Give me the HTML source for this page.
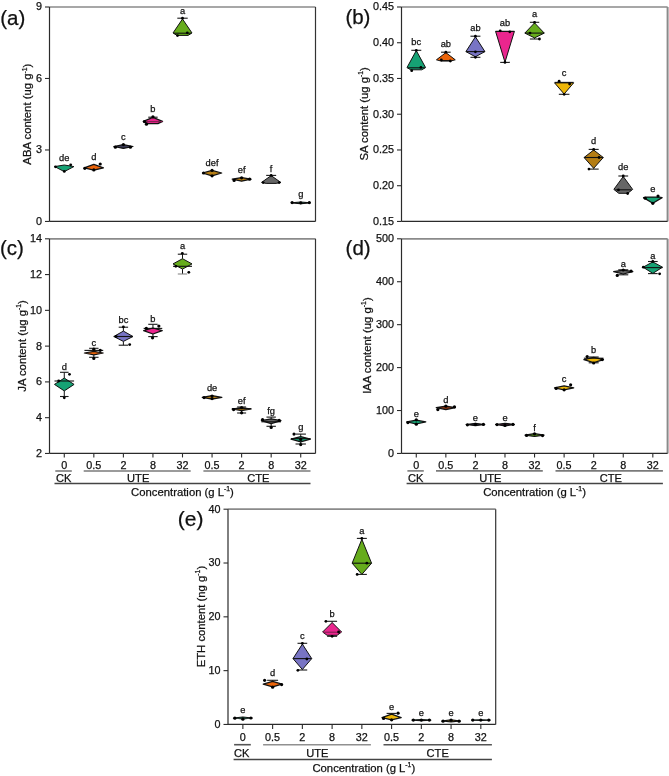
<!DOCTYPE html>
<html><head><meta charset="utf-8"><style>
html,body{margin:0;padding:0;background:#fff;}
svg{display:block;will-change:transform;}
text{font-family:"Liberation Sans", sans-serif;fill:#111;stroke:#111;stroke-width:0.25px;}
</style></head><body>
<svg width="669" height="776" viewBox="0 0 669 776">
<rect width="669" height="776" fill="#fff"/>
<line x1="49.5" y1="7" x2="315.5" y2="7" stroke="#8a8a8a" stroke-width="1.7"/>
<line x1="315.5" y1="7" x2="315.5" y2="221.45" stroke="#333" stroke-width="1.2"/>
<line x1="49.5" y1="7" x2="49.5" y2="221.45" stroke="#2b2b2b" stroke-width="1.2"/>
<line x1="49.5" y1="221.45" x2="315.5" y2="221.45" stroke="#2b2b2b" stroke-width="1.2"/>
<line x1="45.0" y1="221.45" x2="49.5" y2="221.45" stroke="#2b2b2b" stroke-width="1.1"/>
<text x="42.0" y="224.85" text-anchor="end" font-size="10.8">0</text>
<line x1="45.0" y1="149.97" x2="49.5" y2="149.97" stroke="#2b2b2b" stroke-width="1.1"/>
<text x="42.0" y="153.37" text-anchor="end" font-size="10.8">3</text>
<line x1="45.0" y1="78.48" x2="49.5" y2="78.48" stroke="#2b2b2b" stroke-width="1.1"/>
<text x="42.0" y="81.88" text-anchor="end" font-size="10.8">6</text>
<line x1="45.0" y1="7.00" x2="49.5" y2="7.00" stroke="#2b2b2b" stroke-width="1.1"/>
<text x="42.0" y="10.40" text-anchor="end" font-size="10.8">9</text>
<text x="0.2" y="24.6" font-size="20.5">(a)</text>
<text transform="translate(31.4,114.2) rotate(-90)" text-anchor="middle" font-size="11.3">ABA content (<tspan>ug</tspan> g<tspan font-size="6.8" dy="-4.5">-1</tspan><tspan dy="4.5">)</tspan></text>

<polygon points="64.28,165.00 73.88,166.60 64.28,171.60 54.68,166.60" fill="#16a274" stroke="#111" stroke-width="1" stroke-linejoin="round"/>
<circle cx="55.48" cy="166.8" r="1.4" fill="#000"/>
<circle cx="70.68" cy="164.8" r="1.4" fill="#000"/>
<circle cx="64.28" cy="171.4" r="1.4" fill="#000"/>
<text x="64.28" y="160.9" text-anchor="middle" font-size="9.3">de</text>

<polygon points="93.83,164.40 103.43,167.90 93.83,170.20 84.23,167.90" fill="#ec640a" stroke="#111" stroke-width="1.25" stroke-linejoin="round"/>
<circle cx="100.23" cy="164.0" r="1.6" fill="#000"/>
<circle cx="84.83" cy="168.3" r="1.6" fill="#000"/>
<circle cx="93.83" cy="169.9" r="1.6" fill="#000"/>
<text x="93.83" y="159.5" text-anchor="middle" font-size="9.3">d</text>

<polygon points="123.39,144.60 132.99,146.50 123.39,148.40 113.79,146.50" fill="#3c3c58" stroke="#111" stroke-width="1.25" stroke-linejoin="round"/>
<circle cx="115.39" cy="147.2" r="1.6" fill="#000"/>
<circle cx="123.39" cy="144.6" r="1.6" fill="#000"/>
<circle cx="130.39" cy="147.2" r="1.6" fill="#000"/>
<text x="123.39" y="140.3" text-anchor="middle" font-size="9.3">c</text>
<line x1="152.94" y1="117.2" x2="152.94" y2="117.4" stroke="#111" stroke-width="1"/><line x1="148.24" y1="117.2" x2="157.64" y2="117.2" stroke="#1a1a1a" stroke-width="1.1"/>
<polygon points="152.94,117.40 162.54,121.40 157.94,123.60 147.94,123.60 143.34,121.40" fill="#ea268e" stroke="#111" stroke-width="1.25" stroke-linejoin="round"/>
<line x1="143.34" y1="121.6" x2="162.54" y2="121.6" stroke="#802050" stroke-width="1.1"/>
<circle cx="144.44" cy="121.6" r="1.6" fill="#000"/>
<circle cx="152.94" cy="116.8" r="1.6" fill="#000"/>
<circle cx="146.44" cy="124.2" r="1.6" fill="#000"/>
<text x="152.94" y="112.4" text-anchor="middle" font-size="9.3">b</text>
<line x1="182.50" y1="18.2" x2="182.50" y2="19.0" stroke="#111" stroke-width="1"/><line x1="177.30" y1="18.2" x2="187.70" y2="18.2" stroke="#1a1a1a" stroke-width="1.1"/>
<polygon points="182.50,19.00 192.00,33.00 188.00,35.40 177.00,35.40 173.00,33.00" fill="#66ac1c" stroke="#111" stroke-width="1" stroke-linejoin="round"/>
<line x1="174.00" y1="33.2" x2="191.00" y2="33.2" stroke="#111" stroke-width="1.1"/>
<circle cx="182.50" cy="18.2" r="1.4" fill="#000"/>
<circle cx="187.30" cy="32.8" r="1.4" fill="#000"/>
<circle cx="177.50" cy="35.6" r="1.4" fill="#000"/>
<text x="182.50" y="13.9" text-anchor="middle" font-size="9.3">a</text>

<polygon points="212.06,170.40 221.66,173.00 212.06,175.80 202.46,173.00" fill="#b47d14" stroke="#111" stroke-width="1.25" stroke-linejoin="round"/>
<circle cx="203.56" cy="173" r="1.6" fill="#000"/>
<circle cx="212.06" cy="170.4" r="1.6" fill="#000"/>
<circle cx="212.06" cy="175.8" r="1.6" fill="#000"/>
<text x="212.06" y="165.9" text-anchor="middle" font-size="9.3">def</text>

<polygon points="241.61,177.60 251.01,179.20 241.61,181.20 232.21,179.20" fill="#b47d14" stroke="#111" stroke-width="1.25" stroke-linejoin="round"/>
<circle cx="234.11" cy="180.4" r="1.6" fill="#000"/>
<circle cx="241.61" cy="177.8" r="1.6" fill="#000"/>
<circle cx="249.61" cy="179.2" r="1.6" fill="#000"/>
<text x="241.61" y="172.5" text-anchor="middle" font-size="9.3">ef</text>
<line x1="271.17" y1="175.4" x2="271.17" y2="175.6" stroke="#111" stroke-width="1"/><line x1="266.17" y1="175.4" x2="276.17" y2="175.4" stroke="#1a1a1a" stroke-width="1.1"/>
<polygon points="271.17,175.60 280.77,182.40 276.17,183.40 266.17,183.40 261.57,182.40" fill="#666666" stroke="#111" stroke-width="1" stroke-linejoin="round"/>
<circle cx="271.17" cy="175.4" r="1.4" fill="#000"/>
<circle cx="263.17" cy="182.6" r="1.4" fill="#000"/>
<circle cx="279.17" cy="182.6" r="1.4" fill="#000"/>
<text x="271.17" y="171.6" text-anchor="middle" font-size="9.3">f</text>

<polygon points="300.72,202.00 310.12,202.80 300.72,203.60 291.32,202.80" fill="#16a274" stroke="#111" stroke-width="1.25" stroke-linejoin="round"/>
<circle cx="292.12" cy="202.6" r="1.6" fill="#000"/>
<circle cx="300.72" cy="202.8" r="1.6" fill="#000"/>
<circle cx="309.32" cy="202.6" r="1.6" fill="#000"/>
<text x="300.72" y="197.2" text-anchor="middle" font-size="9.3">g</text>
<line x1="401.5" y1="7" x2="667.6" y2="7" stroke="#8a8a8a" stroke-width="1.7"/>
<line x1="667.6" y1="7" x2="667.6" y2="221.45" stroke="#8a8a8a" stroke-width="2.0"/>
<line x1="401.5" y1="7" x2="401.5" y2="221.45" stroke="#2b2b2b" stroke-width="1.2"/>
<line x1="401.5" y1="221.45" x2="667.6" y2="221.45" stroke="#2b2b2b" stroke-width="1.2"/>
<line x1="397.0" y1="221.45" x2="401.5" y2="221.45" stroke="#2b2b2b" stroke-width="1.1"/>
<text x="394.0" y="224.85" text-anchor="end" font-size="10.8">0.15</text>
<line x1="397.0" y1="185.71" x2="401.5" y2="185.71" stroke="#2b2b2b" stroke-width="1.1"/>
<text x="394.0" y="189.11" text-anchor="end" font-size="10.8">0.20</text>
<line x1="397.0" y1="149.97" x2="401.5" y2="149.97" stroke="#2b2b2b" stroke-width="1.1"/>
<text x="394.0" y="153.37" text-anchor="end" font-size="10.8">0.25</text>
<line x1="397.0" y1="114.23" x2="401.5" y2="114.23" stroke="#2b2b2b" stroke-width="1.1"/>
<text x="394.0" y="117.63" text-anchor="end" font-size="10.8">0.30</text>
<line x1="397.0" y1="78.48" x2="401.5" y2="78.48" stroke="#2b2b2b" stroke-width="1.1"/>
<text x="394.0" y="81.88" text-anchor="end" font-size="10.8">0.35</text>
<line x1="397.0" y1="42.74" x2="401.5" y2="42.74" stroke="#2b2b2b" stroke-width="1.1"/>
<text x="394.0" y="46.14" text-anchor="end" font-size="10.8">0.40</text>
<line x1="397.0" y1="7.00" x2="401.5" y2="7.00" stroke="#2b2b2b" stroke-width="1.1"/>
<text x="394.0" y="10.40" text-anchor="end" font-size="10.8">0.45</text>
<text x="345.4" y="24.4" font-size="20.5">(b)</text>
<text transform="translate(367.7,113.8) rotate(-90)" text-anchor="middle" font-size="11.3">SA content (<tspan>ug</tspan> g<tspan font-size="6.8" dy="-4.5">-1</tspan><tspan dy="4.5">)</tspan></text>
<line x1="416.28" y1="50.3" x2="416.28" y2="50.6" stroke="#111" stroke-width="1"/><line x1="411.28" y1="50.3" x2="421.28" y2="50.3" stroke="#1a1a1a" stroke-width="1.1"/>
<polygon points="416.28,50.60 425.58,67.60 421.78,69.80 410.78,69.80 406.98,67.60" fill="#16a274" stroke="#111" stroke-width="1" stroke-linejoin="round"/>
<line x1="407.78" y1="67.8" x2="424.78" y2="67.8" stroke="#111" stroke-width="1.1"/>
<circle cx="416.28" cy="50.3" r="1.4" fill="#000"/>
<circle cx="420.88" cy="67.4" r="1.4" fill="#000"/>
<circle cx="411.68" cy="70.7" r="1.4" fill="#000"/>
<text x="416.28" y="44.8" text-anchor="middle" font-size="9.3">bc</text>
<line x1="445.85" y1="52.2" x2="445.85" y2="52.6" stroke="#111" stroke-width="1"/><line x1="441.05" y1="52.2" x2="450.65" y2="52.2" stroke="#1a1a1a" stroke-width="1.1"/>
<polygon points="445.85,52.60 455.25,59.80 450.85,61.00 440.85,61.00 436.45,59.80" fill="#ec640a" stroke="#111" stroke-width="1" stroke-linejoin="round"/>
<line x1="440.85" y1="60.6" x2="450.85" y2="60.6" stroke="#111" stroke-width="1.1"/>
<circle cx="445.85" cy="52.2" r="1.4" fill="#000"/>
<circle cx="441.35" cy="60.0" r="1.4" fill="#000"/>
<circle cx="450.35" cy="61.0" r="1.4" fill="#000"/>
<text x="445.85" y="46.7" text-anchor="middle" font-size="9.3">ab</text>
<line x1="475.42" y1="36.2" x2="475.42" y2="36.8" stroke="#111" stroke-width="1"/><line x1="470.42" y1="36.2" x2="480.42" y2="36.2" stroke="#1a1a1a" stroke-width="1.1"/><line x1="475.42" y1="56.8" x2="475.42" y2="57.3" stroke="#111" stroke-width="1"/><line x1="470.42" y1="57.3" x2="480.42" y2="57.3" stroke="#1a1a1a" stroke-width="1.1"/>
<polygon points="475.42,36.80 484.92,51.60 475.42,56.80 465.92,51.60" fill="#7874c4" stroke="#111" stroke-width="1" stroke-linejoin="round"/>
<line x1="465.92" y1="51.6" x2="484.92" y2="51.6" stroke="#111" stroke-width="1.1"/>
<circle cx="475.42" cy="36.2" r="1.4" fill="#000"/>
<circle cx="475.42" cy="51.8" r="1.4" fill="#000"/>
<circle cx="475.42" cy="57.3" r="1.4" fill="#000"/>
<text x="475.42" y="30.8" text-anchor="middle" font-size="9.3">ab</text>
<line x1="504.98" y1="62.2" x2="504.98" y2="62.4" stroke="#111" stroke-width="1"/><line x1="500.18" y1="62.4" x2="509.78" y2="62.4" stroke="#1a1a1a" stroke-width="1.1"/>
<polygon points="495.58,31.40 514.38,31.40 514.38,31.40 504.98,62.20 495.58,31.40" fill="#ea268e" stroke="#111" stroke-width="1" stroke-linejoin="round"/>
<line x1="495.58" y1="31.4" x2="514.38" y2="31.4" stroke="#111" stroke-width="1.1"/>
<circle cx="500.18" cy="30.8" r="1.4" fill="#000"/>
<circle cx="509.78" cy="31.8" r="1.4" fill="#000"/>
<circle cx="504.98" cy="62.4" r="1.4" fill="#000"/>
<text x="504.98" y="25.7" text-anchor="middle" font-size="9.3">ab</text>
<line x1="534.55" y1="22.3" x2="534.55" y2="22.9" stroke="#111" stroke-width="1"/><line x1="529.85" y1="22.3" x2="539.25" y2="22.3" stroke="#1a1a1a" stroke-width="1.1"/><line x1="534.55" y1="37.9" x2="534.55" y2="39.0" stroke="#111" stroke-width="1"/><line x1="529.85" y1="39.0" x2="539.25" y2="39.0" stroke="#1a1a1a" stroke-width="1.1"/>
<polygon points="534.55,22.90 544.25,33.10 534.55,37.90 524.85,33.10" fill="#66ac1c" stroke="#111" stroke-width="1" stroke-linejoin="round"/>
<line x1="524.85" y1="33.1" x2="544.25" y2="33.1" stroke="#111" stroke-width="1.1"/>
<circle cx="534.55" cy="22.3" r="1.4" fill="#000"/>
<circle cx="530.05" cy="33.1" r="1.4" fill="#000"/>
<circle cx="539.45" cy="39.0" r="1.4" fill="#000"/>
<text x="534.55" y="17.3" text-anchor="middle" font-size="9.3">a</text>
<line x1="564.12" y1="94.0" x2="564.12" y2="94.3" stroke="#111" stroke-width="1"/><line x1="558.82" y1="94.3" x2="569.42" y2="94.3" stroke="#1a1a1a" stroke-width="1.1"/>
<polygon points="554.62,82.90 573.62,82.90 573.62,82.90 564.12,94.00 554.62,82.90" fill="#edb608" stroke="#111" stroke-width="1" stroke-linejoin="round"/>
<line x1="554.62" y1="82.4" x2="573.62" y2="82.4" stroke="#111" stroke-width="1.1"/>
<circle cx="559.12" cy="81.2" r="1.4" fill="#000"/>
<circle cx="569.62" cy="84.0" r="1.4" fill="#000"/>
<circle cx="564.12" cy="94.3" r="1.4" fill="#000"/>
<text x="564.12" y="76.0" text-anchor="middle" font-size="9.3">c</text>
<line x1="593.68" y1="149.4" x2="593.68" y2="150.0" stroke="#111" stroke-width="1"/><line x1="588.68" y1="149.4" x2="598.68" y2="149.4" stroke="#1a1a1a" stroke-width="1.1"/><line x1="593.68" y1="168.3" x2="593.68" y2="169.1" stroke="#111" stroke-width="1"/><line x1="588.68" y1="169.1" x2="598.68" y2="169.1" stroke="#1a1a1a" stroke-width="1.1"/>
<polygon points="593.68,150.00 603.28,157.50 593.68,168.30 584.08,157.50" fill="#b47d14" stroke="#111" stroke-width="1" stroke-linejoin="round"/>
<line x1="584.08" y1="157.5" x2="603.28" y2="157.5" stroke="#111" stroke-width="1.1"/>
<circle cx="593.68" cy="149.4" r="1.4" fill="#000"/>
<circle cx="599.08" cy="157.5" r="1.4" fill="#000"/>
<circle cx="588.98" cy="169.1" r="1.4" fill="#000"/>
<text x="593.68" y="144.4" text-anchor="middle" font-size="9.3">d</text>
<line x1="623.25" y1="176.0" x2="623.25" y2="176.5" stroke="#111" stroke-width="1"/><line x1="618.35" y1="176.0" x2="628.15" y2="176.0" stroke="#1a1a1a" stroke-width="1.1"/>
<polygon points="623.25,176.50 632.65,189.40 627.75,193.30 618.75,193.30 613.85,189.40" fill="#666666" stroke="#111" stroke-width="1" stroke-linejoin="round"/>
<line x1="615.25" y1="189.8" x2="631.25" y2="189.8" stroke="#111" stroke-width="1.1"/>
<circle cx="623.25" cy="176.0" r="1.4" fill="#000"/>
<circle cx="618.45" cy="189.9" r="1.4" fill="#000"/>
<circle cx="627.65" cy="193.5" r="1.4" fill="#000"/>
<text x="623.25" y="170.4" text-anchor="middle" font-size="9.3">de</text>

<polygon points="646.82,197.00 658.82,197.00 662.12,197.60 652.82,203.20 643.52,197.60" fill="#16a274" stroke="#111" stroke-width="1.25" stroke-linejoin="round"/>
<circle cx="658.02" cy="196.1" r="1.6" fill="#000"/>
<circle cx="645.22" cy="198.2" r="1.6" fill="#000"/>
<circle cx="652.82" cy="203.3" r="1.6" fill="#000"/>
<text x="652.82" y="191.5" text-anchor="middle" font-size="9.3">e</text>
<line x1="49.5" y1="238.8" x2="315.5" y2="238.8" stroke="#8a8a8a" stroke-width="1.7"/>
<line x1="315.5" y1="238.8" x2="315.5" y2="453.45" stroke="#333" stroke-width="1.2"/>
<line x1="49.5" y1="238.8" x2="49.5" y2="453.45" stroke="#2b2b2b" stroke-width="1.2"/>
<line x1="49.5" y1="453.45" x2="315.5" y2="453.45" stroke="#2b2b2b" stroke-width="1.2"/>
<line x1="45.0" y1="453.45" x2="49.5" y2="453.45" stroke="#2b2b2b" stroke-width="1.1"/>
<text x="42.0" y="456.85" text-anchor="end" font-size="10.8">2</text>
<line x1="45.0" y1="417.68" x2="49.5" y2="417.68" stroke="#2b2b2b" stroke-width="1.1"/>
<text x="42.0" y="421.07" text-anchor="end" font-size="10.8">4</text>
<line x1="45.0" y1="381.90" x2="49.5" y2="381.90" stroke="#2b2b2b" stroke-width="1.1"/>
<text x="42.0" y="385.30" text-anchor="end" font-size="10.8">6</text>
<line x1="45.0" y1="346.12" x2="49.5" y2="346.12" stroke="#2b2b2b" stroke-width="1.1"/>
<text x="42.0" y="349.52" text-anchor="end" font-size="10.8">8</text>
<line x1="45.0" y1="310.35" x2="49.5" y2="310.35" stroke="#2b2b2b" stroke-width="1.1"/>
<text x="42.0" y="313.75" text-anchor="end" font-size="10.8">10</text>
<line x1="45.0" y1="274.57" x2="49.5" y2="274.57" stroke="#2b2b2b" stroke-width="1.1"/>
<text x="42.0" y="277.97" text-anchor="end" font-size="10.8">12</text>
<line x1="45.0" y1="238.80" x2="49.5" y2="238.80" stroke="#2b2b2b" stroke-width="1.1"/>
<text x="42.0" y="242.20" text-anchor="end" font-size="10.8">14</text>
<text x="0.0" y="254.5" font-size="20.5">(c)</text>
<text transform="translate(25.6,346.0) rotate(-90)" text-anchor="middle" font-size="11.3">JA content (<tspan>ug</tspan> g<tspan font-size="6.8" dy="-4.5">-1</tspan><tspan dy="4.5">)</tspan></text>
<line x1="64.28" y1="453.45" x2="64.28" y2="457.45" stroke="#2b2b2b" stroke-width="1.1"/>
<text x="64.28" y="469.0" text-anchor="middle" font-size="10.8">0</text>
<line x1="93.83" y1="453.45" x2="93.83" y2="457.45" stroke="#2b2b2b" stroke-width="1.1"/>
<text x="93.83" y="469.0" text-anchor="middle" font-size="10.8">0.5</text>
<line x1="123.39" y1="453.45" x2="123.39" y2="457.45" stroke="#2b2b2b" stroke-width="1.1"/>
<text x="123.39" y="469.0" text-anchor="middle" font-size="10.8">2</text>
<line x1="152.94" y1="453.45" x2="152.94" y2="457.45" stroke="#2b2b2b" stroke-width="1.1"/>
<text x="152.94" y="469.0" text-anchor="middle" font-size="10.8">8</text>
<line x1="182.50" y1="453.45" x2="182.50" y2="457.45" stroke="#2b2b2b" stroke-width="1.1"/>
<text x="182.50" y="469.0" text-anchor="middle" font-size="10.8">32</text>
<line x1="212.06" y1="453.45" x2="212.06" y2="457.45" stroke="#2b2b2b" stroke-width="1.1"/>
<text x="212.06" y="469.0" text-anchor="middle" font-size="10.8">0.5</text>
<line x1="241.61" y1="453.45" x2="241.61" y2="457.45" stroke="#2b2b2b" stroke-width="1.1"/>
<text x="241.61" y="469.0" text-anchor="middle" font-size="10.8">2</text>
<line x1="271.17" y1="453.45" x2="271.17" y2="457.45" stroke="#2b2b2b" stroke-width="1.1"/>
<text x="271.17" y="469.0" text-anchor="middle" font-size="10.8">8</text>
<line x1="300.72" y1="453.45" x2="300.72" y2="457.45" stroke="#2b2b2b" stroke-width="1.1"/>
<text x="300.72" y="469.0" text-anchor="middle" font-size="10.8">32</text>
<line x1="55.3" y1="471.0" x2="71.8" y2="471.0" stroke="#7a7a7a" stroke-width="1.6"/>
<line x1="83.7" y1="471.0" x2="190.7" y2="471.0" stroke="#7a7a7a" stroke-width="1.6"/>
<line x1="203.4" y1="471.0" x2="310.5" y2="471.0" stroke="#7a7a7a" stroke-width="1.6"/>
<text x="63.6" y="481.8" text-anchor="middle" font-size="11.1">CK</text>
<text x="138.2" y="481.8" text-anchor="middle" font-size="11.1">UTE</text>
<text x="258.4" y="481.8" text-anchor="middle" font-size="11.1">CTE</text>
<line x1="54.5" y1="483.6" x2="310.5" y2="483.6" stroke="#444" stroke-width="1.5"/>
<text x="182.50" y="495.9" text-anchor="middle" font-size="11.3">Concentration (g L<tspan font-size="6.8" dy="-4.5">-1</tspan><tspan dy="4.5">)</tspan></text>
<line x1="64.28" y1="372.3" x2="64.28" y2="378.1" stroke="#111" stroke-width="1"/><line x1="59.98" y1="372.3" x2="68.58" y2="372.3" stroke="#1a1a1a" stroke-width="1.1"/><line x1="64.28" y1="390.9" x2="64.28" y2="396.5" stroke="#111" stroke-width="1"/><line x1="59.98" y1="396.5" x2="68.58" y2="396.5" stroke="#1a1a1a" stroke-width="1.1"/>
<polygon points="64.28,378.10 74.08,384.40 64.28,390.90 54.48,384.40" fill="#16a274" stroke="#111" stroke-width="1" stroke-linejoin="round"/>
<line x1="54.48" y1="381.0" x2="74.08" y2="381.0" stroke="#111" stroke-width="1.1"/>
<circle cx="69.48" cy="374.3" r="1.4" fill="#000"/>
<circle cx="58.68" cy="381.0" r="1.4" fill="#000"/>
<circle cx="64.28" cy="397.8" r="1.4" fill="#000"/>
<text x="64.28" y="370.0" text-anchor="middle" font-size="9.3">d</text>
<line x1="93.83" y1="348.3" x2="93.83" y2="351.4" stroke="#111" stroke-width="1"/><line x1="89.13" y1="348.3" x2="98.53" y2="348.3" stroke="#1a1a1a" stroke-width="1.1"/><line x1="93.83" y1="354.8" x2="93.83" y2="357.3" stroke="#111" stroke-width="1"/><line x1="89.13" y1="357.3" x2="98.53" y2="357.3" stroke="#1a1a1a" stroke-width="1.1"/>
<polygon points="93.83,351.40 103.23,353.00 93.83,354.80 84.43,353.00" fill="#ec640a" stroke="#111" stroke-width="1.25" stroke-linejoin="round"/>
<line x1="84.43" y1="350.4" x2="103.23" y2="350.4" stroke="#111" stroke-width="1.1"/>
<circle cx="93.83" cy="349.2" r="1.6" fill="#000"/>
<circle cx="100.23" cy="350.3" r="1.6" fill="#000"/>
<circle cx="93.83" cy="358.4" r="1.6" fill="#000"/>
<text x="93.83" y="345.9" text-anchor="middle" font-size="9.3">c</text>
<line x1="123.39" y1="327.2" x2="123.39" y2="331.1" stroke="#111" stroke-width="1"/><line x1="118.69" y1="327.2" x2="128.09" y2="327.2" stroke="#1a1a1a" stroke-width="1.1"/><line x1="123.39" y1="341.4" x2="123.39" y2="345.2" stroke="#111" stroke-width="1"/><line x1="118.69" y1="345.2" x2="128.09" y2="345.2" stroke="#1a1a1a" stroke-width="1.1"/>
<polygon points="123.39,331.10 132.99,336.50 123.39,341.40 113.79,336.50" fill="#7874c4" stroke="#111" stroke-width="1" stroke-linejoin="round"/>
<line x1="113.79" y1="336.5" x2="132.99" y2="336.5" stroke="#111" stroke-width="1.1"/>
<circle cx="123.39" cy="326.9" r="1.4" fill="#000"/>
<circle cx="116.19" cy="336.5" r="1.4" fill="#000"/>
<circle cx="129.69" cy="344.6" r="1.4" fill="#000"/>
<text x="123.39" y="322.7" text-anchor="middle" font-size="9.3">bc</text>
<line x1="152.94" y1="324.3" x2="152.94" y2="328.0" stroke="#111" stroke-width="1"/><line x1="148.24" y1="324.3" x2="157.64" y2="324.3" stroke="#1a1a1a" stroke-width="1.1"/><line x1="152.94" y1="334.0" x2="152.94" y2="336.6" stroke="#111" stroke-width="1"/><line x1="148.24" y1="336.6" x2="157.64" y2="336.6" stroke="#1a1a1a" stroke-width="1.1"/>
<polygon points="152.94,328.00 162.24,330.60 152.94,334.00 143.64,330.60" fill="#ea268e" stroke="#111" stroke-width="1.25" stroke-linejoin="round"/>
<line x1="143.64" y1="328.4" x2="162.24" y2="328.4" stroke="#111" stroke-width="1.1"/>
<circle cx="146.34" cy="328.4" r="1.6" fill="#000"/>
<circle cx="158.84" cy="326.1" r="1.6" fill="#000"/>
<circle cx="152.54" cy="337.8" r="1.6" fill="#000"/>
<text x="152.94" y="322.2" text-anchor="middle" font-size="9.3">b</text>
<line x1="182.50" y1="254.2" x2="182.50" y2="258.7" stroke="#111" stroke-width="1"/><line x1="177.80" y1="254.2" x2="187.20" y2="254.2" stroke="#1a1a1a" stroke-width="1.1"/><line x1="182.50" y1="269.1" x2="182.50" y2="274.0" stroke="#111" stroke-width="1"/><line x1="177.80" y1="274.0" x2="187.20" y2="274.0" stroke="#888" stroke-width="1.1"/>
<polygon points="182.50,258.70 192.00,263.90 182.50,269.10 173.00,263.90" fill="#66ac1c" stroke="#111" stroke-width="1" stroke-linejoin="round"/>
<line x1="173.00" y1="266.3" x2="192.00" y2="266.3" stroke="#111" stroke-width="1.1"/>
<circle cx="182.30" cy="253.3" r="1.4" fill="#000"/>
<circle cx="175.80" cy="266.3" r="1.4" fill="#000"/>
<circle cx="188.80" cy="272.3" r="1.4" fill="#000"/>
<text x="182.50" y="248.9" text-anchor="middle" font-size="9.3">a</text>

<polygon points="212.06,395.60 221.86,397.40 212.06,399.20 202.26,397.40" fill="#b47d14" stroke="#111" stroke-width="1.25" stroke-linejoin="round"/>
<circle cx="204.06" cy="397.6" r="1.6" fill="#000"/>
<circle cx="212.06" cy="396.0" r="1.6" fill="#000"/>
<circle cx="212.06" cy="398.6" r="1.6" fill="#000"/>
<text x="212.06" y="390.9" text-anchor="middle" font-size="9.3">de</text>
<line x1="241.61" y1="407.0" x2="241.61" y2="407.6" stroke="#111" stroke-width="1"/><line x1="237.11" y1="407.0" x2="246.11" y2="407.0" stroke="#1a1a1a" stroke-width="1.1"/><line x1="241.61" y1="410.6" x2="241.61" y2="413.0" stroke="#111" stroke-width="1"/><line x1="237.11" y1="413.0" x2="246.11" y2="413.0" stroke="#1a1a1a" stroke-width="1.1"/>
<polygon points="241.61,407.60 251.21,409.00 241.61,410.60 232.01,409.00" fill="#b47d14" stroke="#111" stroke-width="1.25" stroke-linejoin="round"/>
<line x1="232.01" y1="408.6" x2="251.21" y2="408.6" stroke="#111" stroke-width="1.1"/>
<circle cx="233.61" cy="409.6" r="1.6" fill="#000"/>
<circle cx="241.61" cy="407.6" r="1.6" fill="#000"/>
<circle cx="241.61" cy="412.8" r="1.6" fill="#000"/>
<text x="241.61" y="404.3" text-anchor="middle" font-size="9.3">ef</text>
<line x1="271.17" y1="417.1" x2="271.17" y2="418.8" stroke="#111" stroke-width="1"/><line x1="266.47" y1="417.1" x2="275.87" y2="417.1" stroke="#1a1a1a" stroke-width="1.1"/><line x1="271.17" y1="423.6" x2="271.17" y2="426.3" stroke="#111" stroke-width="1"/><line x1="266.47" y1="426.3" x2="275.87" y2="426.3" stroke="#1a1a1a" stroke-width="1.1"/>
<polygon points="271.17,418.80 280.97,420.70 271.17,423.60 261.37,420.70" fill="#666666" stroke="#111" stroke-width="1.25" stroke-linejoin="round"/>
<line x1="261.37" y1="421.8" x2="280.97" y2="421.8" stroke="#111" stroke-width="1.1"/>
<circle cx="262.57" cy="419.6" r="1.6" fill="#000"/>
<circle cx="271.17" cy="427.4" r="1.6" fill="#000"/>
<circle cx="279.17" cy="420.4" r="1.6" fill="#000"/>
<text x="271.17" y="413.6" text-anchor="middle" font-size="9.3">fg</text>
<line x1="300.72" y1="434.1" x2="300.72" y2="436.6" stroke="#111" stroke-width="1"/><line x1="295.52" y1="434.1" x2="305.92" y2="434.1" stroke="#1a1a1a" stroke-width="1.1"/><line x1="300.72" y1="441.8" x2="300.72" y2="444.0" stroke="#111" stroke-width="1"/><line x1="295.52" y1="444.0" x2="305.92" y2="444.0" stroke="#1a1a1a" stroke-width="1.1"/>
<polygon points="300.72,436.60 310.42,439.10 300.72,441.80 291.02,439.10" fill="#16a274" stroke="#111" stroke-width="1.25" stroke-linejoin="round"/>
<line x1="291.02" y1="438.6" x2="310.42" y2="438.6" stroke="#111" stroke-width="1.1"/>
<circle cx="294.02" cy="434.1" r="1.6" fill="#000"/>
<circle cx="300.72" cy="439.4" r="1.6" fill="#000"/>
<circle cx="300.72" cy="444.6" r="1.6" fill="#000"/>
<text x="300.72" y="430.4" text-anchor="middle" font-size="9.3">g</text>
<line x1="401.5" y1="238.8" x2="667.6" y2="238.8" stroke="#8a8a8a" stroke-width="1.7"/>
<line x1="667.6" y1="238.8" x2="667.6" y2="453.45" stroke="#8a8a8a" stroke-width="2.0"/>
<line x1="401.5" y1="238.8" x2="401.5" y2="453.45" stroke="#2b2b2b" stroke-width="1.2"/>
<line x1="401.5" y1="453.45" x2="667.6" y2="453.45" stroke="#2b2b2b" stroke-width="1.2"/>
<line x1="397.0" y1="453.45" x2="401.5" y2="453.45" stroke="#2b2b2b" stroke-width="1.1"/>
<text x="394.0" y="456.85" text-anchor="end" font-size="10.8">0</text>
<line x1="397.0" y1="410.52" x2="401.5" y2="410.52" stroke="#2b2b2b" stroke-width="1.1"/>
<text x="394.0" y="413.92" text-anchor="end" font-size="10.8">100</text>
<line x1="397.0" y1="367.59" x2="401.5" y2="367.59" stroke="#2b2b2b" stroke-width="1.1"/>
<text x="394.0" y="370.99" text-anchor="end" font-size="10.8">200</text>
<line x1="397.0" y1="324.66" x2="401.5" y2="324.66" stroke="#2b2b2b" stroke-width="1.1"/>
<text x="394.0" y="328.06" text-anchor="end" font-size="10.8">300</text>
<line x1="397.0" y1="281.73" x2="401.5" y2="281.73" stroke="#2b2b2b" stroke-width="1.1"/>
<text x="394.0" y="285.13" text-anchor="end" font-size="10.8">400</text>
<line x1="397.0" y1="238.80" x2="401.5" y2="238.80" stroke="#2b2b2b" stroke-width="1.1"/>
<text x="394.0" y="242.20" text-anchor="end" font-size="10.8">500</text>
<text x="345.6" y="254.5" font-size="20.5">(d)</text>
<text transform="translate(370.8,345.6) rotate(-90)" text-anchor="middle" font-size="11.3">IAA content (<tspan>ug</tspan> g<tspan font-size="6.8" dy="-4.5">-1</tspan><tspan dy="4.5">)</tspan></text>
<line x1="416.28" y1="453.45" x2="416.28" y2="457.45" stroke="#2b2b2b" stroke-width="1.1"/>
<text x="416.28" y="469.0" text-anchor="middle" font-size="10.8">0</text>
<line x1="445.85" y1="453.45" x2="445.85" y2="457.45" stroke="#2b2b2b" stroke-width="1.1"/>
<text x="445.85" y="469.0" text-anchor="middle" font-size="10.8">0.5</text>
<line x1="475.42" y1="453.45" x2="475.42" y2="457.45" stroke="#2b2b2b" stroke-width="1.1"/>
<text x="475.42" y="469.0" text-anchor="middle" font-size="10.8">2</text>
<line x1="504.98" y1="453.45" x2="504.98" y2="457.45" stroke="#2b2b2b" stroke-width="1.1"/>
<text x="504.98" y="469.0" text-anchor="middle" font-size="10.8">8</text>
<line x1="534.55" y1="453.45" x2="534.55" y2="457.45" stroke="#2b2b2b" stroke-width="1.1"/>
<text x="534.55" y="469.0" text-anchor="middle" font-size="10.8">32</text>
<line x1="564.12" y1="453.45" x2="564.12" y2="457.45" stroke="#2b2b2b" stroke-width="1.1"/>
<text x="564.12" y="469.0" text-anchor="middle" font-size="10.8">0.5</text>
<line x1="593.68" y1="453.45" x2="593.68" y2="457.45" stroke="#2b2b2b" stroke-width="1.1"/>
<text x="593.68" y="469.0" text-anchor="middle" font-size="10.8">2</text>
<line x1="623.25" y1="453.45" x2="623.25" y2="457.45" stroke="#2b2b2b" stroke-width="1.1"/>
<text x="623.25" y="469.0" text-anchor="middle" font-size="10.8">8</text>
<line x1="652.82" y1="453.45" x2="652.82" y2="457.45" stroke="#2b2b2b" stroke-width="1.1"/>
<text x="652.82" y="469.0" text-anchor="middle" font-size="10.8">32</text>
<line x1="407.4" y1="470.9" x2="423.8" y2="470.9" stroke="#7a7a7a" stroke-width="1.6"/>
<line x1="436.0" y1="470.9" x2="542.8" y2="470.9" stroke="#7a7a7a" stroke-width="1.6"/>
<line x1="555.5" y1="470.9" x2="662.9" y2="470.9" stroke="#7a7a7a" stroke-width="1.6"/>
<text x="415.6" y="481.8" text-anchor="middle" font-size="11.1">CK</text>
<text x="490.3" y="481.8" text-anchor="middle" font-size="11.1">UTE</text>
<text x="610.8" y="481.8" text-anchor="middle" font-size="11.1">CTE</text>
<line x1="406.6" y1="483.5" x2="662.9" y2="483.5" stroke="#444" stroke-width="1.5"/>
<text x="534.55" y="495.9" text-anchor="middle" font-size="11.3">Concentration (g L<tspan font-size="6.8" dy="-4.5">-1</tspan><tspan dy="4.5">)</tspan></text>

<polygon points="416.28,420.20 425.78,421.90 416.28,424.00 406.78,421.90" fill="#16a274" stroke="#111" stroke-width="1.25" stroke-linejoin="round"/>
<circle cx="407.88" cy="422.6" r="1.6" fill="#000"/>
<circle cx="416.28" cy="419.8" r="1.6" fill="#000"/>
<circle cx="416.28" cy="424.2" r="1.6" fill="#000"/>
<text x="416.28" y="416.8" text-anchor="middle" font-size="9.3">e</text>

<polygon points="445.85,406.20 455.45,407.60 445.85,409.60 436.25,407.60" fill="#8a3410" stroke="#111" stroke-width="1.25" stroke-linejoin="round"/>
<circle cx="437.85" cy="409.6" r="1.6" fill="#000"/>
<circle cx="445.85" cy="406.2" r="1.6" fill="#000"/>
<circle cx="454.45" cy="406.8" r="1.6" fill="#000"/>
<text x="445.85" y="402.7" text-anchor="middle" font-size="9.3">d</text>

<polygon points="475.42,423.40 484.72,424.50 475.42,425.60 466.12,424.50" fill="#2a2a40" stroke="#111" stroke-width="1.25" stroke-linejoin="round"/>
<circle cx="467.42" cy="424.8" r="1.6" fill="#000"/>
<circle cx="475.42" cy="424.4" r="1.6" fill="#000"/>
<circle cx="483.42" cy="424.4" r="1.6" fill="#000"/>
<text x="475.42" y="421.0" text-anchor="middle" font-size="9.3">e</text>

<polygon points="504.98,423.40 514.38,424.50 504.98,425.80 495.58,424.50" fill="#402030" stroke="#111" stroke-width="1.25" stroke-linejoin="round"/>
<circle cx="496.98" cy="424.6" r="1.6" fill="#000"/>
<circle cx="504.98" cy="425.4" r="1.6" fill="#000"/>
<circle cx="512.98" cy="424.4" r="1.6" fill="#000"/>
<text x="504.98" y="421.0" text-anchor="middle" font-size="9.3">e</text>

<polygon points="534.55,433.60 544.05,435.20 534.55,436.40 525.05,435.20" fill="#66ac1c" stroke="#111" stroke-width="1.25" stroke-linejoin="round"/>
<circle cx="526.55" cy="435.4" r="1.6" fill="#000"/>
<circle cx="534.55" cy="433.8" r="1.6" fill="#000"/>
<circle cx="542.55" cy="435.6" r="1.6" fill="#000"/>
<text x="534.55" y="430.6" text-anchor="middle" font-size="9.3">f</text>

<polygon points="564.12,385.80 573.72,387.90 564.12,389.80 554.52,387.90" fill="#edb608" stroke="#111" stroke-width="1.25" stroke-linejoin="round"/>
<circle cx="570.62" cy="384.8" r="1.6" fill="#000"/>
<circle cx="556.12" cy="388.4" r="1.6" fill="#000"/>
<circle cx="564.12" cy="389.8" r="1.6" fill="#000"/>
<text x="564.12" y="381.7" text-anchor="middle" font-size="9.3">c</text>
<line x1="593.68" y1="357.0" x2="593.68" y2="357.4" stroke="#111" stroke-width="1"/><line x1="588.68" y1="357.0" x2="598.68" y2="357.0" stroke="#1a1a1a" stroke-width="1.1"/><line x1="593.68" y1="362.6" x2="593.68" y2="362.8" stroke="#111" stroke-width="1"/><line x1="588.68" y1="362.8" x2="598.68" y2="362.8" stroke="#1a1a1a" stroke-width="1.1"/>
<polygon points="593.68,357.40 603.48,359.60 593.68,362.60 583.88,359.60" fill="#edb608" stroke="#111" stroke-width="1.25" stroke-linejoin="round"/>
<line x1="583.88" y1="358.2" x2="603.48" y2="358.2" stroke="#111" stroke-width="1.1"/>
<circle cx="587.18" cy="356.6" r="1.6" fill="#000"/>
<circle cx="602.18" cy="359.6" r="1.6" fill="#000"/>
<circle cx="593.68" cy="363.0" r="1.6" fill="#000"/>
<text x="593.68" y="352.5" text-anchor="middle" font-size="9.3">b</text>
<line x1="623.25" y1="269.8" x2="623.25" y2="270.2" stroke="#111" stroke-width="1"/><line x1="618.25" y1="269.8" x2="628.25" y2="269.8" stroke="#1a1a1a" stroke-width="1.1"/><line x1="623.25" y1="274.0" x2="623.25" y2="274.8" stroke="#111" stroke-width="1"/><line x1="618.25" y1="274.8" x2="628.25" y2="274.8" stroke="#1a1a1a" stroke-width="1.1"/>
<polygon points="623.25,270.20 632.85,271.60 623.25,274.00 613.65,271.60" fill="#666666" stroke="#111" stroke-width="1.25" stroke-linejoin="round"/>
<circle cx="617.25" cy="275.4" r="1.6" fill="#000"/>
<circle cx="623.25" cy="270.0" r="1.6" fill="#000"/>
<circle cx="631.05" cy="271.0" r="1.6" fill="#000"/>
<text x="623.25" y="266.9" text-anchor="middle" font-size="9.3">a</text>
<line x1="652.82" y1="261.5" x2="652.82" y2="261.9" stroke="#111" stroke-width="1"/><line x1="647.97" y1="261.5" x2="657.67" y2="261.5" stroke="#1a1a1a" stroke-width="1.1"/><line x1="652.82" y1="273.4" x2="652.82" y2="273.6" stroke="#111" stroke-width="1"/><line x1="647.97" y1="273.6" x2="657.67" y2="273.6" stroke="#1a1a1a" stroke-width="1.1"/>
<polygon points="652.82,261.90 662.52,267.20 652.82,273.40 643.12,267.20" fill="#16a274" stroke="#111" stroke-width="1" stroke-linejoin="round"/>
<line x1="643.12" y1="267.6" x2="662.52" y2="267.6" stroke="#111" stroke-width="1.1"/>
<circle cx="652.82" cy="261.5" r="1.4" fill="#000"/>
<circle cx="643.32" cy="267.2" r="1.4" fill="#000"/>
<circle cx="659.62" cy="273.8" r="1.4" fill="#000"/>
<text x="652.82" y="258.5" text-anchor="middle" font-size="9.3">a</text>
<line x1="228" y1="509.2" x2="495.7" y2="509.2" stroke="#8a8a8a" stroke-width="1.7"/>
<line x1="495.7" y1="509.2" x2="495.7" y2="724.45" stroke="#333" stroke-width="1.2"/>
<line x1="228" y1="509.2" x2="228" y2="724.45" stroke="#2b2b2b" stroke-width="1.2"/>
<line x1="228" y1="724.45" x2="495.7" y2="724.45" stroke="#2b2b2b" stroke-width="1.2"/>
<line x1="223.5" y1="724.45" x2="228" y2="724.45" stroke="#2b2b2b" stroke-width="1.1"/>
<text x="220.5" y="727.85" text-anchor="end" font-size="10.8">0</text>
<line x1="223.5" y1="670.64" x2="228" y2="670.64" stroke="#2b2b2b" stroke-width="1.1"/>
<text x="220.5" y="674.04" text-anchor="end" font-size="10.8">10</text>
<line x1="223.5" y1="616.83" x2="228" y2="616.83" stroke="#2b2b2b" stroke-width="1.1"/>
<text x="220.5" y="620.23" text-anchor="end" font-size="10.8">20</text>
<line x1="223.5" y1="563.01" x2="228" y2="563.01" stroke="#2b2b2b" stroke-width="1.1"/>
<text x="220.5" y="566.41" text-anchor="end" font-size="10.8">30</text>
<line x1="223.5" y1="509.20" x2="228" y2="509.20" stroke="#2b2b2b" stroke-width="1.1"/>
<text x="220.5" y="512.60" text-anchor="end" font-size="10.8">40</text>
<text x="177.8" y="525.6" font-size="21">(e)</text>
<text transform="translate(204.6,616.6) rotate(-90)" text-anchor="middle" font-size="11.3">ETH content (<tspan>ng</tspan> g<tspan font-size="6.8" dy="-4.5">-1</tspan><tspan dy="4.5">)</tspan></text>
<line x1="242.87" y1="724.45" x2="242.87" y2="728.95" stroke="#2b2b2b" stroke-width="1.1"/>
<text x="242.87" y="741.0" text-anchor="middle" font-size="10.8">0</text>
<line x1="272.62" y1="724.45" x2="272.62" y2="728.95" stroke="#2b2b2b" stroke-width="1.1"/>
<text x="272.62" y="741.0" text-anchor="middle" font-size="10.8">0.5</text>
<line x1="302.36" y1="724.45" x2="302.36" y2="728.95" stroke="#2b2b2b" stroke-width="1.1"/>
<text x="302.36" y="741.0" text-anchor="middle" font-size="10.8">2</text>
<line x1="332.11" y1="724.45" x2="332.11" y2="728.95" stroke="#2b2b2b" stroke-width="1.1"/>
<text x="332.11" y="741.0" text-anchor="middle" font-size="10.8">8</text>
<line x1="361.85" y1="724.45" x2="361.85" y2="728.95" stroke="#2b2b2b" stroke-width="1.1"/>
<text x="361.85" y="741.0" text-anchor="middle" font-size="10.8">32</text>
<line x1="391.59" y1="724.45" x2="391.59" y2="728.95" stroke="#2b2b2b" stroke-width="1.1"/>
<text x="391.59" y="741.0" text-anchor="middle" font-size="10.8">0.5</text>
<line x1="421.34" y1="724.45" x2="421.34" y2="728.95" stroke="#2b2b2b" stroke-width="1.1"/>
<text x="421.34" y="741.0" text-anchor="middle" font-size="10.8">2</text>
<line x1="451.08" y1="724.45" x2="451.08" y2="728.95" stroke="#2b2b2b" stroke-width="1.1"/>
<text x="451.08" y="741.0" text-anchor="middle" font-size="10.8">8</text>
<line x1="480.83" y1="724.45" x2="480.83" y2="728.95" stroke="#2b2b2b" stroke-width="1.1"/>
<text x="480.83" y="741.0" text-anchor="middle" font-size="10.8">32</text>
<line x1="234.1" y1="744.7" x2="250.8" y2="744.7" stroke="#555" stroke-width="1.6"/>
<line x1="263.1" y1="744.7" x2="370.9" y2="744.7" stroke="#909090" stroke-width="1.6"/>
<line x1="383.5" y1="744.7" x2="491.9" y2="744.7" stroke="#555" stroke-width="1.6"/>
<text x="241.8" y="757.0" text-anchor="middle" font-size="11.1">CK</text>
<text x="317.4" y="757.0" text-anchor="middle" font-size="11.1">UTE</text>
<text x="437.7" y="757.0" text-anchor="middle" font-size="11.1">CTE</text>
<line x1="233.6" y1="759.4" x2="491.9" y2="759.4" stroke="#444" stroke-width="1.5"/>
<text x="363.80" y="771.6" text-anchor="middle" font-size="11.3">Concentration (g L<tspan font-size="6.8" dy="-4.5">-1</tspan><tspan dy="4.5">)</tspan></text>

<polygon points="242.87,717.00 252.27,718.00 242.87,719.00 233.47,718.00" fill="#16a274" stroke="#111" stroke-width="1.25" stroke-linejoin="round"/>
<circle cx="234.87" cy="718.2" r="1.6" fill="#000"/>
<circle cx="242.87" cy="719.2" r="1.6" fill="#000"/>
<circle cx="250.87" cy="718.0" r="1.6" fill="#000"/>
<text x="242.87" y="713.2" text-anchor="middle" font-size="9.3">e</text>
<line x1="272.62" y1="680.3" x2="272.62" y2="681.4" stroke="#111" stroke-width="1"/><line x1="267.12" y1="680.3" x2="278.12" y2="680.3" stroke="#1a1a1a" stroke-width="1.1"/>
<polygon points="272.62,681.40 282.02,684.20 272.62,686.80 263.22,684.20" fill="#ec640a" stroke="#111" stroke-width="1.25" stroke-linejoin="round"/>
<circle cx="264.62" cy="680.3" r="1.6" fill="#000"/>
<circle cx="272.62" cy="687.2" r="1.6" fill="#000"/>
<circle cx="281.62" cy="684.6" r="1.6" fill="#000"/>
<text x="272.62" y="675.6" text-anchor="middle" font-size="9.3">d</text>
<line x1="302.36" y1="643.3" x2="302.36" y2="644.1" stroke="#111" stroke-width="1"/><line x1="297.51" y1="643.3" x2="307.21" y2="643.3" stroke="#1a1a1a" stroke-width="1.1"/><line x1="302.36" y1="669.5" x2="302.36" y2="670.0" stroke="#111" stroke-width="1"/><line x1="297.51" y1="670.0" x2="307.21" y2="670.0" stroke="#1a1a1a" stroke-width="1.1"/>
<polygon points="302.36,644.10 311.71,658.60 302.36,669.50 293.01,658.60" fill="#7874c4" stroke="#111" stroke-width="1" stroke-linejoin="round"/>
<line x1="293.01" y1="658.6" x2="311.71" y2="658.6" stroke="#111" stroke-width="1.1"/>
<circle cx="302.36" cy="643.3" r="1.4" fill="#000"/>
<circle cx="306.86" cy="659.0" r="1.4" fill="#000"/>
<circle cx="297.86" cy="670.3" r="1.4" fill="#000"/>
<text x="302.36" y="639.3" text-anchor="middle" font-size="9.3">c</text>
<line x1="332.11" y1="621.3" x2="332.11" y2="622.5" stroke="#111" stroke-width="1"/><line x1="327.11" y1="621.3" x2="337.11" y2="621.3" stroke="#1a1a1a" stroke-width="1.1"/><line x1="332.11" y1="635.3" x2="332.11" y2="636.3" stroke="#111" stroke-width="1"/><line x1="327.11" y1="636.3" x2="337.11" y2="636.3" stroke="#1a1a1a" stroke-width="1.1"/>
<polygon points="332.11,622.50 341.61,632.00 337.11,635.30 327.11,635.30 322.61,632.00" fill="#ea268e" stroke="#111" stroke-width="1" stroke-linejoin="round"/>
<line x1="323.11" y1="632.2" x2="341.11" y2="632.2" stroke="#802050" stroke-width="1.1"/>
<circle cx="325.91" cy="621.3" r="1.4" fill="#000"/>
<circle cx="338.61" cy="632.0" r="1.4" fill="#000"/>
<circle cx="332.11" cy="636.3" r="1.4" fill="#000"/>
<text x="332.11" y="617.2" text-anchor="middle" font-size="9.3">b</text>
<line x1="361.85" y1="538.4" x2="361.85" y2="539.3" stroke="#111" stroke-width="1"/><line x1="356.85" y1="538.4" x2="366.85" y2="538.4" stroke="#1a1a1a" stroke-width="1.1"/><line x1="361.85" y1="574.4" x2="361.85" y2="574.4" stroke="#111" stroke-width="1"/><line x1="356.85" y1="574.4" x2="366.85" y2="574.4" stroke="#1a1a1a" stroke-width="1.1"/>
<polygon points="361.85,539.30 371.55,563.20 361.85,574.40 352.15,563.20" fill="#66ac1c" stroke="#111" stroke-width="1" stroke-linejoin="round"/>
<line x1="352.15" y1="563.2" x2="371.55" y2="563.2" stroke="#111" stroke-width="1.1"/>
<circle cx="361.85" cy="538.4" r="1.4" fill="#000"/>
<circle cx="366.85" cy="563.2" r="1.4" fill="#000"/>
<circle cx="357.15" cy="574.4" r="1.4" fill="#000"/>
<text x="361.85" y="533.8" text-anchor="middle" font-size="9.3">a</text>
<line x1="391.59" y1="713.4" x2="391.59" y2="714.2" stroke="#111" stroke-width="1"/><line x1="386.59" y1="713.4" x2="396.59" y2="713.4" stroke="#1a1a1a" stroke-width="1.1"/>
<polygon points="391.59,714.20 401.19,717.60 391.59,719.80 381.99,717.60" fill="#edb608" stroke="#111" stroke-width="1.25" stroke-linejoin="round"/>
<circle cx="398.09" cy="713.2" r="1.6" fill="#000"/>
<circle cx="383.59" cy="718.4" r="1.6" fill="#000"/>
<circle cx="391.59" cy="719.8" r="1.6" fill="#000"/>
<text x="391.59" y="710.1" text-anchor="middle" font-size="9.3">e</text>

<polygon points="421.34,719.60 430.74,720.10 421.34,720.60 411.94,720.10" fill="#16a274" stroke="#111" stroke-width="1.25" stroke-linejoin="round"/>
<circle cx="413.34" cy="720.1" r="1.6" fill="#000"/>
<circle cx="421.34" cy="720.1" r="1.6" fill="#000"/>
<circle cx="429.34" cy="720.1" r="1.6" fill="#000"/>
<text x="421.34" y="715.6" text-anchor="middle" font-size="9.3">e</text>

<polygon points="451.08,719.80 460.48,721.00 451.08,721.80 441.68,721.00" fill="#edb608" stroke="#111" stroke-width="1.25" stroke-linejoin="round"/>
<circle cx="443.08" cy="721.2" r="1.6" fill="#000"/>
<circle cx="451.08" cy="720.2" r="1.6" fill="#000"/>
<circle cx="459.08" cy="721.2" r="1.6" fill="#000"/>
<text x="451.08" y="715.6" text-anchor="middle" font-size="9.3">e</text>

<polygon points="480.83,719.80 490.13,720.10 480.83,720.40 471.53,720.10" fill="#16a274" stroke="#111" stroke-width="1.25" stroke-linejoin="round"/>
<circle cx="472.83" cy="720.1" r="1.6" fill="#000"/>
<circle cx="480.83" cy="720.1" r="1.6" fill="#000"/>
<circle cx="488.83" cy="720.1" r="1.6" fill="#000"/>
<text x="480.83" y="715.6" text-anchor="middle" font-size="9.3">e</text>
</svg>
</body></html>
